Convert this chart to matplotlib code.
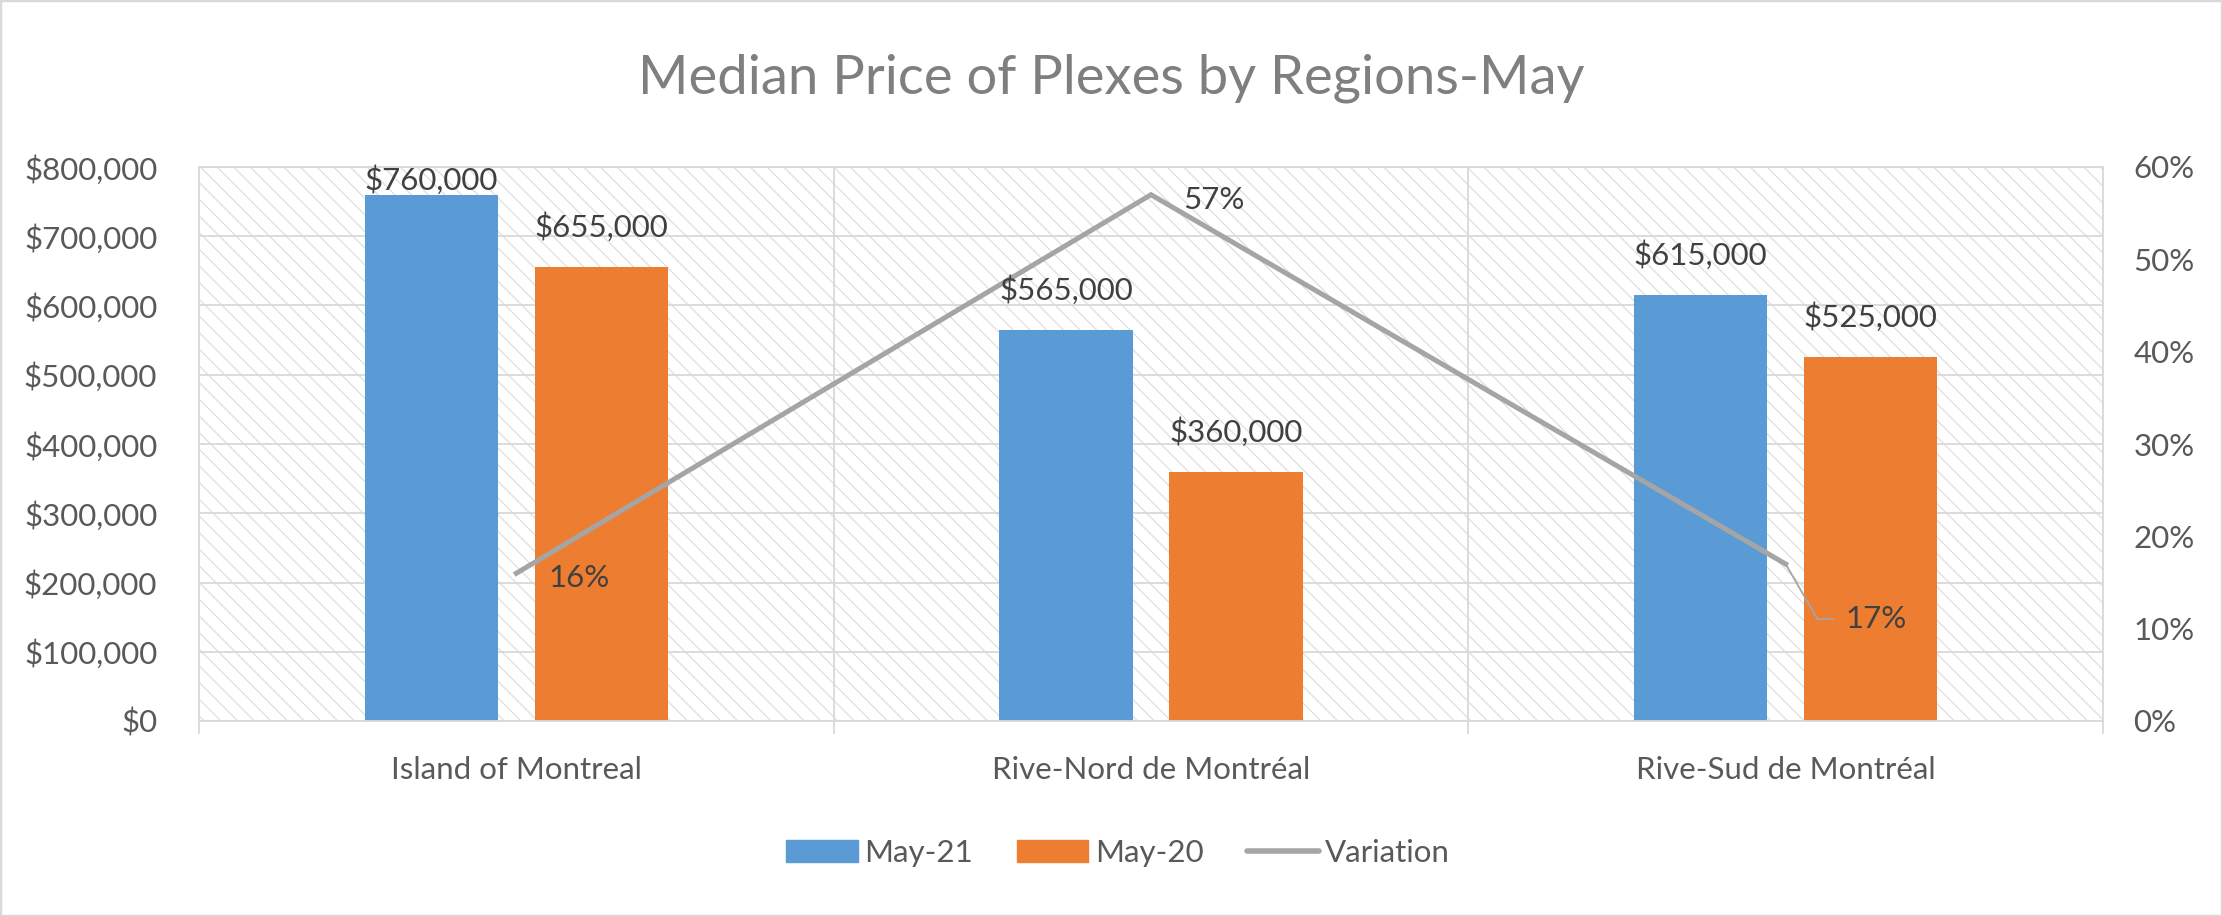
import matplotlib
matplotlib.use("Agg")
import matplotlib.pyplot as plt
from matplotlib.patches import Rectangle, Patch
from matplotlib.lines import Line2D
from matplotlib.ticker import FuncFormatter, FixedLocator
import numpy as np

# ---- data ----
categories = ["Island of Montreal", "Rive-Nord de Montréal", "Rive-Sud de Montréal"]
may21 = [760000, 565000, 615000]
may20 = [655000, 360000, 525000]
variation = [0.16, 0.57, 0.17]
series_names = ["May-21", "May-20", "Variation"]
title = "Median Price of Plexes by Regions-May"

FONT = "Lato"
BLUE = "#5B9BD5"
ORANGE = "#ED7D31"
GRAY = "#A5A5A5"
GRID = "#D9D9D9"
TXT = "#595959"
LBL = "#404040"

W, H, DPI = 2222, 916, 100
fig = plt.figure(figsize=(W / DPI, H / DPI), dpi=DPI)
plt.rcParams["font.family"] = [FONT, "DejaVu Sans"]
plt.rcParams["hatch.linewidth"] = 0.9
renderer = fig.canvas.get_renderer()


def fit(s, target_px, base=20.0):
    t = fig.text(0, 0, s, fontsize=base, family=FONT)
    w = t.get_window_extent(renderer).width
    t.remove()
    return base * target_px / w


FS = fit("$800,000", 134)
FS_T = fit(title, 948)

# figure border
fig.patches.append(Rectangle((0, 0), 1, 1, transform=fig.transFigure, fill=False,
                             edgecolor=GRID, lw=2.5))

ax = fig.add_axes([199 / W, 1 - 721 / H, (2103 - 199) / W, (721 - 167) / H])
ax.set_xlim(-0.5, len(categories) - 0.5)
ax.set_ylim(0, 800000)

# hatched plot background
bg = Rectangle((0, 0), 1, 1, transform=ax.transAxes, facecolor="white",
               edgecolor="#DEDEDE", lw=0, hatch="\\\\", zorder=0.1)
ax.add_patch(bg)

x = np.arange(len(categories))
bw = 0.21
off = 0.134
ax.bar(x - off, may21, width=bw, color=BLUE, zorder=2, label=series_names[0])
ax.bar(x + off, may20, width=bw, color=ORANGE, zorder=2, label=series_names[1])

ax.set_axisbelow(True)
ax.yaxis.set_major_locator(FixedLocator(np.arange(0, 800001, 100000)))
ax.yaxis.set_major_formatter(FuncFormatter(lambda v, p: f"${v:,.0f}"))
ax.grid(axis="y", color=GRID, lw=1.3, zorder=0.5)
ax.set_xticks(x)
ax.set_xticklabels(categories)
ax.xaxis.set_minor_locator(FixedLocator(np.arange(-0.5, len(categories), 1.0)))
ax.grid(axis="x", which="minor", color=GRID, lw=1.3)
ax.tick_params(axis="x", which="major", length=0, pad=25, labelsize=FS, labelcolor=TXT)
ax.tick_params(axis="x", which="minor", length=9, width=1.3, color=GRID, direction="out")
ax.tick_params(axis="y", length=0, pad=30, labelsize=FS, labelcolor=TXT)
for s in ax.spines.values():
    s.set_color(GRID)
    s.set_linewidth(1.3)

ax2 = ax.twinx()
ax2.set_ylim(0, 0.6)
ax2.yaxis.set_major_locator(FixedLocator(np.arange(0, 0.61, 0.1)))
ax2.yaxis.set_major_formatter(FuncFormatter(lambda v, p: f"{v * 100:.0f}%"))
ax2.tick_params(axis="y", length=0, pad=22, labelsize=FS, labelcolor=TXT)
for s in ax2.spines.values():
    s.set_visible(False)

ax2.plot(x, variation, color=GRAY, lw=3.6, solid_joinstyle="miter", zorder=3)

# variation labels
px = 1 / DPI * 72  # points per pixel
for i, v in enumerate(variation):
    if i == 2:
        ax2.annotate(f"{v * 100:.0f}%", xy=(x[i], v), xytext=(60 * px, -55 * px),
                     textcoords="offset points", ha="left", va="center",
                     fontsize=FS, color=LBL, zorder=5,
                     arrowprops=dict(arrowstyle="-", color=GRAY, lw=1.3,
                                     connectionstyle="angle,angleA=0,angleB=-60,rad=0",
                                     relpos=(0, 0.5), shrinkA=7, shrinkB=0))
    else:
        ax2.annotate(f"{v * 100:.0f}%", xy=(x[i], v), xytext=(32 * px, -5 * px),
                     textcoords="offset points", ha="left", va="center",
                     fontsize=FS, color=LBL, zorder=5)

# bar labels (drawn on ax2 so they sit above the line)
lab_off = 58000
lab_max = 781000
for xs, vals in ((x - off, may21), (x + off, may20)):
    for xi, v in zip(xs, vals):
        ax2.text(xi, min(v + lab_off, lab_max), f"${v:,.0f}", transform=ax.transData,
                 ha="center", va="center", fontsize=FS, color=LBL, zorder=6)

fig.text(0.5, 1 - 78 / H, title, ha="center", va="center", fontsize=FS_T, color="#7F7F7F")

handles = [Patch(facecolor=BLUE, edgecolor=BLUE),
           Patch(facecolor=ORANGE, edgecolor=ORANGE),
           Line2D([], [], color=GRAY, lw=4, solid_capstyle="round")]
fig.legend(handles, series_names, loc="center", bbox_to_anchor=(1118 / W, 1 - 853 / H),
           ncol=3, frameon=False, fontsize=FS, labelcolor=TXT,
           handlelength=2.3, handleheight=0.7, handletextpad=0.2, columnspacing=1.4)

fig.savefig("out.png", dpi=DPI)
